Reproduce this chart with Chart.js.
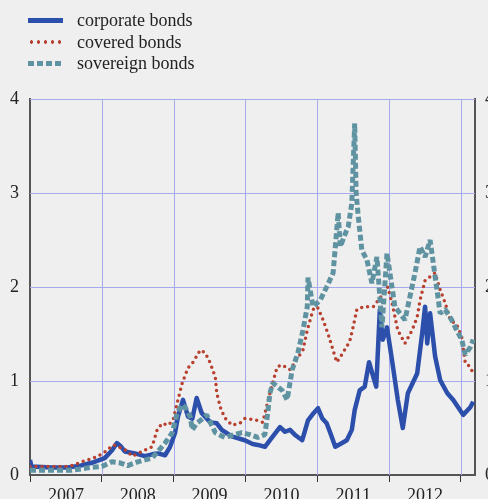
<!DOCTYPE html>
<html>
<head>
<meta charset="utf-8">
<script src="https://cdn.jsdelivr.net/npm/chart.js@4.4.1/dist/chart.umd.min.js"></script>
<style>
    html, body {
        margin: 0;
        padding: 0;
        background: #efefef;
        overflow: hidden;
        width: 488px;
        height: 499px;
    }
    #wrap {
        position: relative;
        width: 488px;
        height: 499px;
    }
    #chart {
        position: absolute;
        left: 0;
        top: 0;
    }
    #legend {
        position: absolute;
        left: 28px;
        top: 10px;
        font-family: 'Liberation Serif', 'Times New Roman', serif;
        font-size: 18px;
        color: #222;
    }
    .row {
        height: 21.5px;
        display: flex;
        align-items: center;
    }
    .swatch {
        width: 35px;
        margin-right: 14px;
    }
</style>
</head>
<body>
<div id="wrap">
    <canvas id="chart" width="500" height="515"></canvas>
    <div id="legend"></div>
</div>
<script>
// Series labels and colours
const seriesNames = ['corporate bonds', 'covered bonds', 'sovereign bonds'];
const seriesColors = ['#2c4fab', '#b8402f', '#5f93a2'];

// y axis ticks (both sides)
const yTicks = [0, 1, 2, 3, 4];
// year labels on the x axis
const years = [2007, 2008, 2009, 2010, 2011, 2012];

// corporate bonds (decimal year / value)
const corpDates = [2007.00, 2007.02, 2007.30, 2007.53, 2007.70, 2007.86, 2008.04, 2008.14, 2008.21, 2008.27,
    2008.32, 2008.46, 2008.60, 2008.70, 2008.78, 2008.88, 2008.95, 2009.02, 2009.06, 2009.13,
    2009.20, 2009.26, 2009.32, 2009.39, 2009.51, 2009.60, 2009.67, 2009.81, 2009.99, 2010.10,
    2010.17, 2010.27, 2010.37, 2010.48, 2010.55, 2010.62, 2010.70, 2010.79, 2010.87, 2010.95,
    2011.01, 2011.07, 2011.13, 2011.18, 2011.25, 2011.32, 2011.41, 2011.48, 2011.52, 2011.59,
    2011.66, 2011.72, 2011.78, 2011.82, 2011.87, 2011.91, 2011.97, 2012.04, 2012.12, 2012.19,
    2012.26, 2012.39, 2012.46, 2012.50, 2012.53, 2012.57, 2012.64, 2012.71, 2012.81, 2012.89,
    2013.03, 2013.13, 2013.17];
const corpValues = [0.16, 0.09, 0.08, 0.08, 0.10, 0.13, 0.18, 0.26, 0.34, 0.30,
    0.25, 0.23, 0.20, 0.22, 0.23, 0.21, 0.30, 0.45, 0.62, 0.80,
    0.62, 0.60, 0.82, 0.66, 0.56, 0.55, 0.48, 0.41, 0.37, 0.33,
    0.32, 0.30, 0.40, 0.51, 0.46, 0.48, 0.42, 0.37, 0.58, 0.66,
    0.71, 0.60, 0.55, 0.45, 0.30, 0.33, 0.37, 0.48, 0.69, 0.90,
    0.94, 1.20, 1.04, 0.94, 1.76, 1.44, 1.57, 1.22, 0.80, 0.50,
    0.87, 1.08, 1.51, 1.79, 1.40, 1.72, 1.26, 1.01, 0.87, 0.80,
    0.64, 0.72, 0.78];

// covered bonds
const covDates = [2007.00, 2007.49, 2007.58, 2007.72, 2007.88, 2008.02, 2008.16, 2008.23, 2008.32, 2008.43,
    2008.53, 2008.70, 2008.77, 2008.84, 2008.92, 2008.99, 2009.06, 2009.12, 2009.20, 2009.27,
    2009.37, 2009.44, 2009.51, 2009.58, 2009.60, 2009.65, 2009.71, 2009.81, 2009.92, 2009.99,
    2010.13, 2010.24, 2010.34, 2010.44, 2010.51, 2010.62, 2010.80, 2010.86, 2010.94, 2011.00,
    2011.07, 2011.15, 2011.25, 2011.27, 2011.34, 2011.45, 2011.50, 2011.55, 2011.64, 2011.78,
    2011.87, 2011.98, 2012.04, 2012.12, 2012.22, 2012.32, 2012.39, 2012.43, 2012.50, 2012.64,
    2012.71, 2012.78, 2012.85, 2012.94, 2013.01, 2013.06, 2013.13, 2013.18];
const covValues = [0.09, 0.09, 0.10, 0.14, 0.18, 0.23, 0.32, 0.30, 0.27, 0.20,
    0.24, 0.30, 0.48, 0.55, 0.53, 0.58, 0.80, 0.98, 1.14, 1.20,
    1.33, 1.30, 1.19, 1.04, 0.87, 0.72, 0.61, 0.53, 0.55, 0.60,
    0.59, 0.56, 0.87, 1.15, 1.17, 1.12, 1.33, 1.54, 1.76, 1.79,
    1.67, 1.50, 1.25, 1.20, 1.28, 1.42, 1.58, 1.76, 1.79, 1.79,
    1.88, 2.00, 1.83, 1.54, 1.40, 1.54, 1.68, 1.86, 2.07, 2.15,
    1.97, 1.83, 1.65, 1.60, 1.47, 1.19, 1.15, 1.06];

// sovereign bonds
const sovDates = [2007.00, 2007.58, 2007.84, 2008.00, 2008.14, 2008.25, 2008.36, 2008.50, 2008.70, 2008.78,
    2008.88, 2008.98, 2009.05, 2009.12, 2009.16, 2009.23, 2009.26, 2009.32, 2009.39, 2009.46,
    2009.58, 2009.71, 2009.85, 2009.95, 2010.06, 2010.17, 2010.27, 2010.31, 2010.34, 2010.38,
    2010.51, 2010.58, 2010.65, 2010.73, 2010.80, 2010.86, 2010.87, 2010.94, 2011.04, 2011.13,
    2011.22, 2011.29, 2011.32, 2011.39, 2011.43, 2011.48, 2011.52, 2011.54, 2011.57, 2011.62,
    2011.69, 2011.76, 2011.83, 2011.90, 2011.97, 2012.01, 2012.08, 2012.15, 2012.22, 2012.29,
    2012.36, 2012.43, 2012.50, 2012.57, 2012.64, 2012.71, 2012.78, 2012.87, 2012.94, 2013.01,
    2013.06, 2013.13, 2013.17];
const sovValues = [0.05, 0.05, 0.08, 0.09, 0.14, 0.13, 0.10, 0.14, 0.18, 0.25,
    0.34, 0.45, 0.66, 0.75, 0.72, 0.62, 0.48, 0.55, 0.59, 0.64,
    0.45, 0.40, 0.43, 0.45, 0.43, 0.40, 0.43, 0.66, 0.87, 0.98,
    0.90, 0.80, 1.12, 1.30, 1.54, 1.79, 2.10, 1.79, 1.86, 2.00,
    2.15, 2.79, 2.43, 2.57, 2.64, 2.89, 3.74, 3.00, 2.75, 2.39,
    2.29, 2.04, 2.32, 1.57, 2.36, 2.15, 1.79, 1.72, 1.65, 1.90,
    2.15, 2.43, 2.32, 2.50, 2.11, 1.72, 1.76, 1.65, 1.54, 1.44,
    1.28, 1.36, 1.44];

const X_MIN = 2007;
const X_MAX = 2013.195;
const GRID_COLOR = 'rgb(164, 170, 236)';

function toPoints(dates, values) {
    return dates.map((d, i) => ({ x: d, y: values[i] }));
}

function buildLegend() {
    const legend = document.getElementById('legend');
    const styles = [
        'border-top: 5px solid ' + seriesColors[0],
        'height: 4px; background-image: radial-gradient(circle, ' + seriesColors[1] + ' 1.6px, transparent 1.9px); background-size: 7px 4px; background-repeat: repeat-x',
        'height: 5px; background-image: linear-gradient(to right, ' + seriesColors[2] + ' 6px, transparent 6px); background-size: 9px 5px; background-repeat: repeat-x'
    ];
    seriesNames.forEach((name, i) => {
        const row = document.createElement('div');
        row.className = 'row';
        const sw = document.createElement('div');
        sw.className = 'swatch';
        sw.style.cssText = styles[i];
        const label = document.createElement('span');
        label.textContent = name;
        row.appendChild(sw);
        row.appendChild(label);
        legend.appendChild(row);
    });
}

// plain 1px grid drawn on exact pixel centres, beneath the data lines
const pixelGrid = {
    id: 'pixelGrid',
    beforeDatasetsDraw(chart) {
        const { ctx, chartArea, scales } = chart;
        ctx.save();
        ctx.strokeStyle = GRID_COLOR;
        ctx.lineWidth = 1;
        ctx.beginPath();
        scales.x.ticks.forEach(t => {
            if (!Number.isInteger(t.value) || t.value === X_MIN) return;
            const px = Math.round(scales.x.getPixelForValue(t.value)) + 0.5;
            ctx.moveTo(px, chartArea.top);
            ctx.lineTo(px, chartArea.bottom);
        });
        scales.y.ticks.forEach(t => {
            if (t.value === 0) return;
            const py = Math.round(scales.y.getPixelForValue(t.value)) + 0.5;
            ctx.moveTo(chartArea.left, py);
            ctx.lineTo(chartArea.right, py);
        });
        ctx.stroke();
        ctx.restore();
    }
};

function initChart() {
    const serif = "'Liberation Serif', 'Times New Roman', serif";
    Chart.defaults.font.family = serif;
    Chart.defaults.font.size = 18;
    Chart.defaults.color = '#222';

    // year boundaries plus mid-year label positions
    const xTicks = [];
    years.forEach(y => { xTicks.push(y); xTicks.push(y + 0.5); });
    xTicks.push(years[years.length - 1] + 1);

    const ctx = document.getElementById('chart');
    new Chart(ctx, {
        type: 'line',
        data: {
            datasets: [
                {
                    label: seriesNames[2],
                    data: toPoints(sovDates, sovValues),
                    borderColor: seriesColors[2],
                    borderWidth: 5,
                    borderDash: [6, 3],
                    borderJoinStyle: 'bevel',
                    order: 0
                },
                {
                    label: seriesNames[1],
                    data: toPoints(covDates, covValues),
                    borderColor: seriesColors[1],
                    borderWidth: 3.5,
                    borderDash: [0, 6],
                    borderCapStyle: 'round',
                    order: 1
                },
                {
                    label: seriesNames[0],
                    data: toPoints(corpDates, corpValues),
                    borderColor: seriesColors[0],
                    borderWidth: 4.5,
                    borderJoinStyle: 'round',
                    order: 2
                }
            ]
        },
        plugins: [pixelGrid],
        options: {
            responsive: false,
            animation: false,
            devicePixelRatio: 1,
            layout: { padding: { top: 99, left: 0, right: 0, bottom: 0 } },
            elements: {
                point: { radius: 0 },
                line: { tension: 0 }
            },
            plugins: {
                legend: { display: false },
                tooltip: { enabled: false }
            },
            scales: {
                x: {
                    type: 'linear',
                    min: X_MIN,
                    max: X_MAX,
                    afterBuildTicks: function(scale) {
                        scale.ticks = xTicks.map(v => ({ value: v }));
                    },
                    afterFit: function(scale) {
                        scale.height = 40;
                    },
                    grid: {
                        drawOnChartArea: false,
                        tickColor: c => (c.tick && Number.isInteger(c.tick.value)) ? '#333' : 'rgba(0,0,0,0)',
                        tickLength: 7,
                        lineWidth: 1
                    },
                    border: { color: '#555', width: 2 },
                    ticks: {
                        autoSkip: false,
                        maxRotation: 0,
                        padding: 3,
                        callback: function(value) {
                            return Number.isInteger(value) ? '' : String(Math.floor(value));
                        }
                    }
                },
                y: {
                    position: 'left',
                    min: 0,
                    max: 4,
                    afterBuildTicks: function(scale) {
                        scale.ticks = yTicks.map(v => ({ value: v }));
                    },
                    afterFit: function(scale) {
                        scale.width = 30;
                    },
                    grid: {
                        drawOnChartArea: false,
                        drawTicks: false
                    },
                    border: { color: '#555', width: 2 },
                    ticks: { padding: 11 }
                },
                y2: {
                    position: 'right',
                    min: 0,
                    max: 4,
                    afterBuildTicks: function(scale) {
                        scale.ticks = yTicks.map(v => ({ value: v }));
                    },
                    afterFit: function(scale) {
                        scale.width = 25;
                    },
                    grid: { display: false, drawTicks: false },
                    border: { color: '#555', width: 2 },
                    ticks: { padding: 10 }
                }
            }
        }
    });
}

document.addEventListener('DOMContentLoaded', function() {
    buildLegend();
    initChart();
});
</script>
</body>
</html>
